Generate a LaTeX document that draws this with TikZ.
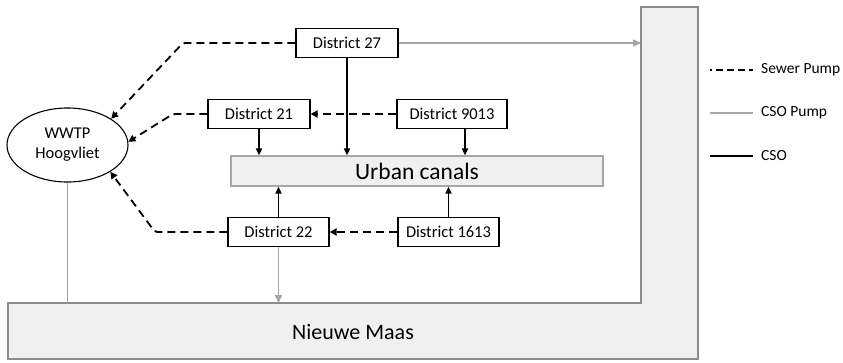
\documentclass[tikz,border=0pt]{standalone}
\usepackage{fontspec}
\setmainfont{Carlito}
\usetikzlibrary{arrows.meta,shapes.geometric}
\definecolor{riverfill}{HTML}{F0F0F0}
\definecolor{riverdraw}{HTML}{8C8C8C}
\definecolor{pumpgray}{HTML}{A6A6A6}
\tikzset{
  district/.style={draw=black, line width=1.1pt, fill=white, minimum height=29pt, minimum width=102pt, inner sep=0pt, font=\fontsize{16.5}{20}\selectfont},
  sewer/.style={draw=black, line width=1.8pt, dash pattern=on 8pt off 5pt, rounded corners=2pt, -{Triangle[length=7pt,width=7pt]}},
  csoline/.style={draw=black, line width=1.6pt, -{Triangle[length=7pt,width=6pt]}},
  csopump/.style={draw=pumpgray, line width=1.5pt, -{Triangle[length=8pt,width=7pt]}},
  bigtext/.style={font=\fontsize{22}{26}\selectfont},
  legtext/.style={anchor=west, inner sep=0pt, font=\fontsize{15.5}{19}\selectfont}
}
\begin{document}
\begin{tikzpicture}[x=1pt,y=-1pt]
\useasboundingbox (0,0) rectangle (843,362);
% river (L-shape)
\draw[fill=riverfill, draw=riverdraw, line width=1.3pt]
  (8,303) -- (641,303) -- (641,7) -- (698,7) -- (698,359) -- (8,359) -- cycle;
\coordinate (maastop) at (0,303);
\coordinate (barleft) at (641,0);
\node[bigtext] (maas) at (353,332) {Nieuwe Maas};
% canal
\node[draw=pumpgray, line width=1.2pt, fill=riverfill, minimum width=372pt, minimum height=30pt, inner sep=0pt, font=\fontsize{23.5}{28}\selectfont] (canal) at (417,171) {Urban canals};
% WWTP
\node[draw=black, line width=1.1pt, ellipse, minimum width=121pt, minimum height=74pt, inner sep=0pt, align=center, font=\fontsize{16.5}{20}\selectfont, fill=white] (wwtp) at (67.5,145) {WWTP\\Hoogvliet};
% districts
\node[district] (d27) at (347,43) {District 27};
\node[district] (d21) at (259,114) {District 21};
\node[district, minimum width=110pt] (d9013) at (452,114) {District 9013};
\node[district, minimum width=101pt] (d22) at (278.5,232) {District 22};
\node[district, minimum width=101pt] (d1613) at (448.5,232) {District 1613};
% corners
\coordinate (c27) at (183,43);
\coordinate (c21) at (173,114);
\coordinate (c22) at (155,232);
% sewer pumps
\draw[sewer] (d27.west) -- (c27) -- (wwtp.31);
\draw[sewer] (d21.west) -- (c21) -- (wwtp.3);
\draw[sewer] (d22.west) -- (c22) -- (wwtp.-32);
\draw[sewer] (d9013.west) -- (d21.east);
\draw[sewer] (d1613.west) -- (d22.east);
% CSO
\draw[csoline] (d21.south) -- (d21.south |- canal.north);
\draw[csoline] (d27.south) -- (d27.south |- canal.north);
\draw[csoline] ([xshift=13pt]d9013.south) -- ([xshift=13pt]d9013.south |- canal.north);
\draw[csoline] (d22.north) -- (d22.north |- canal.south);
\draw[csoline] (d1613.north) -- (d1613.north |- canal.south);
% CSO pumps
\draw[csopump] (d27.east) -- (d27.east -| barleft);
\draw[csopump] (d22.south) -- (d22.south |- maastop);
\draw[draw=pumpgray, line width=1.3pt] (wwtp.south) -- (wwtp.south |- maastop);
% legend
\coordinate (la1) at (710,70); \coordinate (lb1) at (753,70);
\coordinate (la2) at (710,113); \coordinate (lb2) at (753,113);
\coordinate (la3) at (710,156); \coordinate (lb3) at (753,156);
\draw[black, line width=1.7pt, dash pattern=on 7pt off 4pt, dash phase=5pt] (la1) -- (lb1);
\draw[pumpgray, line width=1.7pt] (la2) -- (lb2);
\draw[black, line width=1.7pt] (la3) -- (lb3);
\node[legtext] (lt1) at (761,70) {Sewer Pump};
\node[legtext] (lt2) at (761,113) {CSO Pump};
\node[legtext] (lt3) at (761,156) {CSO};
\end{tikzpicture}
\end{document}
